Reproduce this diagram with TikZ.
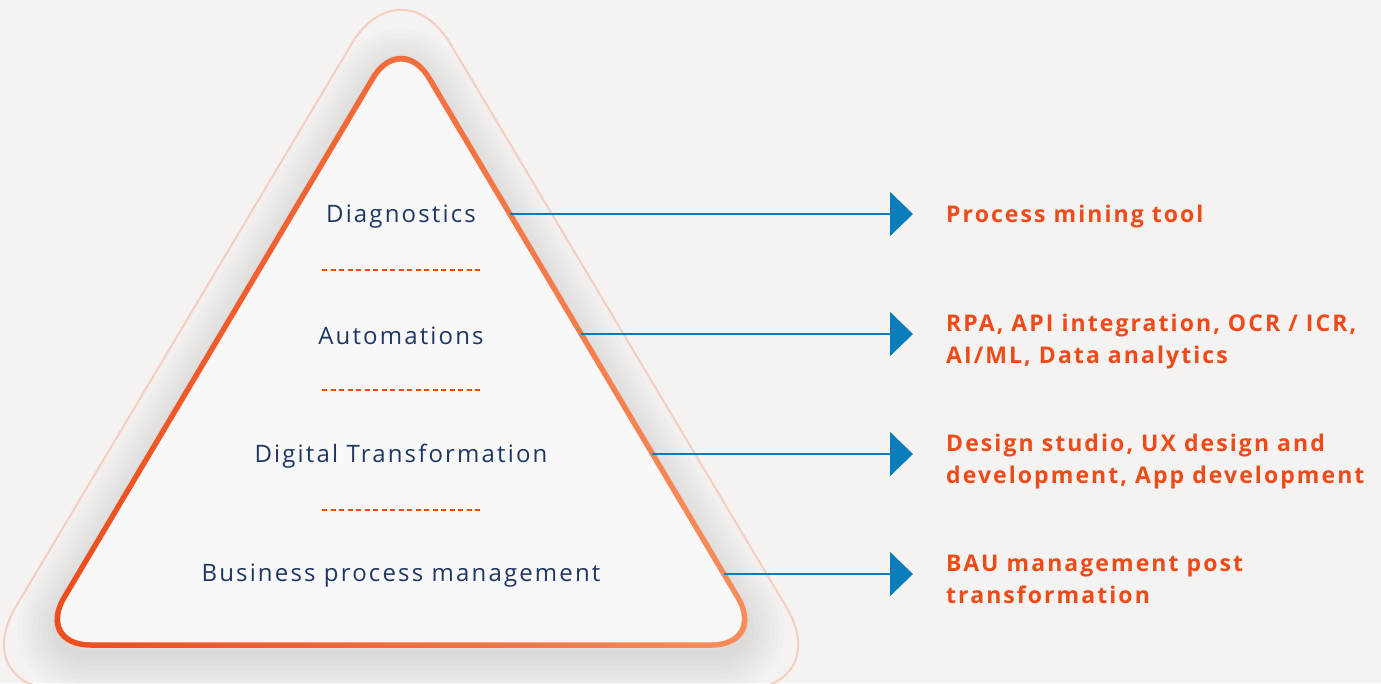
\documentclass[tikz,border=0pt]{standalone}
\usepackage{fontspec}
\setmainfont[LetterSpace=9]{Open Sans}
\usetikzlibrary{arrows.meta}

\definecolor{bgcol}{HTML}{F4F3F2}
\definecolor{fillcol}{HTML}{F8F8F8}
\definecolor{darkorange}{HTML}{EE4A1A}
\definecolor{lightorange}{HTML}{F8905F}
\definecolor{peach}{HTML}{F6CEBF}
\definecolor{navy}{HTML}{1F3764}
\definecolor{arrowblue}{HTML}{0B7DB9}

\begin{document}
\begin{tikzpicture}[x=1pt,y=-1pt,
		level/.style={text=navy, inner sep=0pt, font=\fontsize{24}{28}\selectfont},
		tool/.style={anchor=west, inner sep=0pt, align=left, text=darkorange, font=\bfseries\fontsize{23}{32}\selectfont},
		sep/.style={darkorange, line width=2pt, dash pattern=on 5pt off 3.5pt},
		link/.style={arrowblue, line width=2pt, -{Triangle[length=23pt,width=44pt]}, shorten >=33pt}]

	\useasboundingbox (0,0) rectangle (1381,683);
	\fill[bgcol] (0,0) rectangle (1381,683);

	\begin{scope}
		\clip (0,0) rectangle (1381,683);

		% soft shadow under the pyramid
		\foreach \w in {80,70,...,10}
			\draw[black, opacity=0.01, line width=\w pt, line join=round, rounded corners=55pt, yshift=-10pt]
				(583.5,338) -- (766,645) -- (36,645) -- (401,31) -- cycle;

		% outer frame
		\draw[peach, line width=2pt, rounded corners=97pt]
			(618.4,325.5) -- (835.8,690) -- (-33.8,690) -- (401,-39) -- cycle;

		% pyramid: shaded rim, then the face
		\shade[left color=darkorange, right color=lightorange, rounded corners=60pt]
			(585.9,336.6) -- (770.8,647.75) -- (31.2,647.75) -- (401,25.5) -- cycle;
		\fill[fillcol, rounded corners=50pt]
			(581.1,339.4) -- (761.2,642.25) -- (40.8,642.25) -- (401,36.5) -- cycle;
	\end{scope}

	\coordinate (A) at (401,31);
	\coordinate (R) at (766,645);

	% levels
	\node[level] (diag) at (401,217) {Diagnostics};
	\node[level] (auto) at (401,336) {Automations};
	\node[level] (digi) at (401,456) {Digital Transformation};
	\node[level] (bpm) at (401,576) {Business process management};

	\draw[sep] (322,270) -- (482,270);
	\draw[sep] (322,390) -- (482,390);
	\draw[sep] (322,510) -- (482,510);

	% tools
	\node[tool] (pmt) at (946,217) {Process mining tool};
	\node[tool] (rpa) at (946,342) {RPA, API integration, OCR / ICR,\\AI/ML, Data analytics};
	\node[tool] (ux) at (946,462) {Design studio, UX design and\\development, App development};
	\node[tool] (bau) at (946,579) {BAU management post\\transformation};

	\coordinate (s1) at (intersection of A--R and 0,214--1,214);
	\coordinate (s2) at (intersection of A--R and 0,334--1,334);
	\coordinate (s3) at (intersection of A--R and 0,454--1,454);
	\coordinate (s4) at (intersection of A--R and 0,574--1,574);

	\draw[link] (s1) -- (s1 -| pmt.west);
	\draw[link] (s2) -- (s2 -| rpa.west);
	\draw[link] (s3) -- (s3 -| ux.west);
	\draw[link] (s4) -- (s4 -| bau.west);
\end{tikzpicture}
\end{document}
